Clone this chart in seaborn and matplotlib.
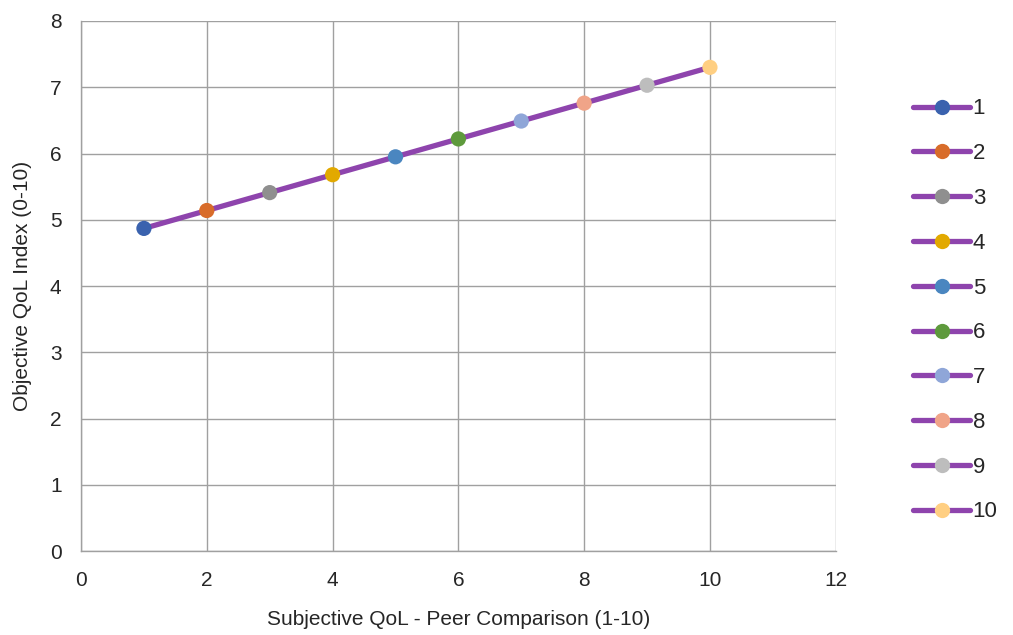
import numpy as np
import pandas as pd
import matplotlib
matplotlib.use("Agg")
import matplotlib.pyplot as plt
import seaborn as sns
from matplotlib.lines import Line2D

# data
subjective = [1, 2, 3, 4, 5, 6, 7, 8, 9, 10]
objective = [4.87, 5.14, 5.41, 5.68, 5.95, 6.22, 6.49, 6.76, 7.03, 7.30]
point_labels = ["1", "2", "3", "4", "5", "6", "7", "8", "9", "10"]
point_colors = ["#3A62AE", "#D86C2A", "#8F8F8F", "#E2A900", "#4A86C0",
                "#5E9A3C", "#8FA6D8", "#F0A488", "#BDBDBD", "#FFCF82"]
line_color = "#8E44AD"
text_color = "#262626"

df = pd.DataFrame({"x": subjective, "y": objective, "label": point_labels})

sns.set_style("white")
plt.rcParams["font.family"] = ["Liberation Sans", "DejaVu Sans"]

fig = plt.figure(figsize=(10.13, 6.35), dpi=100)
ax = fig.add_axes([0.08, 0.132, 0.745, 0.835])

sns.lineplot(data=df, x="x", y="y", ax=ax, color=line_color, linewidth=3.8,
             legend=False, zorder=2)
sns.scatterplot(data=df, x="x", y="y", hue="label", palette=point_colors,
                s=120, edgecolor="none", ax=ax, legend=False, zorder=3)

ax.set_xlim(0, 12)
ax.set_ylim(0, 8)
ax.set_xticks(range(0, 13, 2))
ax.set_yticks(range(0, 9))
ax.grid(True, color="#A0A0A0", linewidth=1.0)
ax.set_axisbelow(True)
for side in ["top", "right"]:
    ax.spines[side].set_visible(False)
for side in ["left", "bottom"]:
    ax.spines[side].set_color("#A0A0A0")
    ax.spines[side].set_linewidth(1.0)
ax.tick_params(axis="both", which="both", length=6, width=1.0, color="#A0A0A0",
               labelsize=15, labelcolor=text_color, direction="out", pad=8)
ax.set_xlabel("Subjective QoL - Peer Comparison (1-10)", fontsize=15,
              color=text_color, labelpad=15)
ax.set_ylabel("Objective QoL Index (0-10)", fontsize=15, color=text_color,
              labelpad=13)

handles = [Line2D([0], [0], color=line_color, linewidth=3.8, marker="o",
                  markersize=11, markerfacecolor=c, markeredgecolor="none",
                  solid_capstyle="round")
           for c in point_colors]
fig.legend(handles, point_labels, loc="upper left",
           bbox_to_anchor=(0.901, 0.845), frameon=False, fontsize=16,
           handlelength=2.6, handletextpad=0.1, labelspacing=1.07,
           borderaxespad=0, borderpad=0)

fig.savefig("out.png", dpi=100)
